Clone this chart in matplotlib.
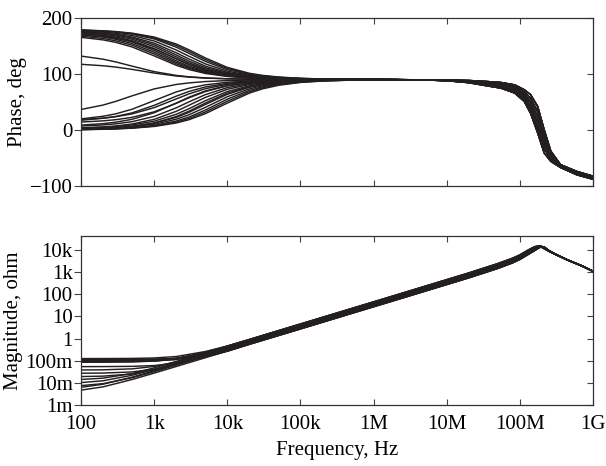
import matplotlib.pyplot as plt

plt.rcParams['font.family'] = ['Liberation Serif', 'DejaVu Serif']
plt.rcParams['font.size'] = 15

# ---- phase data (deg) ----
# low band: 100 Hz .. 1 MHz
f_phase_lo = [1e2, 2e2, 3e2, 5e2, 1e3, 2e3, 3e3, 5e3, 1e4, 2e4, 3e4, 5e4, 1e5, 2e5, 5e5, 1e6]
phase_upper = [
    [178.6, 177.1, 175.7, 172.9, 166.0, 153.5, 143.1, 128.7, 111.8, 101.3, 97.6, 94.6, 92.3, 91.1, 90.5, 90.2],
    [178.4, 176.8, 175.2, 172.1, 164.5, 151.0, 140.2, 125.8, 109.8, 100.2, 96.8, 94.1, 92.1, 91.0, 90.4, 90.2],
    [178.2, 176.4, 174.6, 171.1, 162.6, 148.0, 136.8, 122.6, 107.7, 99.1, 96.1, 93.7, 91.8, 90.9, 90.4, 90.2],
    [176.9, 174.8, 172.7, 168.7, 158.9, 142.9, 131.6, 118.1, 105.0, 97.6, 95.1, 93.1, 91.5, 90.8, 90.3, 90.2],
    [175.5, 173.2, 170.7, 166.0, 155.0, 137.9, 126.7, 114.1, 102.7, 96.4, 94.3, 92.6, 91.3, 90.6, 90.3, 90.1],
    [175.2, 172.4, 169.7, 164.3, 152.0, 134.0, 122.9, 111.3, 101.1, 95.6, 93.7, 92.2, 91.1, 90.6, 90.2, 90.1],
    [174.0, 170.9, 167.9, 162.0, 148.9, 130.6, 119.9, 109.1, 99.8, 95.0, 93.3, 92.0, 91.0, 90.5, 90.2, 90.1],
    [172.6, 169.2, 165.9, 159.4, 145.4, 127.0, 116.8, 106.9, 98.7, 94.4, 92.9, 91.7, 90.9, 90.4, 90.2, 90.1],
    [169.9, 166.8, 163.8, 157.9, 144.9, 127.3, 117.2, 107.3, 98.9, 94.5, 93.0, 91.8, 90.9, 90.4, 90.2, 90.1],
    [172.1, 168.2, 164.4, 157.2, 142.1, 123.4, 113.9, 105.0, 97.6, 93.8, 92.6, 91.5, 90.8, 90.4, 90.2, 90.1],
    [169.9, 165.9, 161.9, 154.3, 138.9, 120.8, 111.9, 103.6, 96.9, 93.5, 92.3, 91.4, 90.7, 90.3, 90.1, 90.1],
    [167.7, 163.4, 159.2, 151.4, 135.8, 118.2, 109.8, 102.3, 96.2, 93.1, 92.1, 91.2, 90.6, 90.3, 90.1, 90.1],
    [165.4, 160.9, 156.4, 148.2, 132.4, 115.6, 107.9, 101.0, 95.6, 92.8, 91.9, 91.1, 90.6, 90.3, 90.1, 90.1],
]
phase_mid = [
    [132.0, 126.4, 121.5, 114.0, 104.2, 97.5, 95.0, 93.0, 91.5, 90.8, 90.5, 90.3, 90.1, 90.1, 90.0, 90.0],
    [117.3, 114.7, 112.3, 108.2, 101.7, 96.4, 94.4, 92.7, 91.3, 90.7, 90.4, 90.3, 90.1, 90.1, 90.0, 90.0],
]
phase_lower = [
    [36.6, 44.5, 51.2, 61.0, 73.3, 81.3, 84.1, 86.5, 88.2, 89.1, 89.4, 89.6, 89.8, 89.9, 90.0, 90.0],
    [19.8, 24.5, 28.9, 37.1, 52.5, 67.9, 74.6, 80.6, 85.2, 87.6, 88.4, 89.0, 89.5, 89.8, 89.9, 90.0],
    [18.6, 21.2, 23.8, 28.7, 39.9, 55.4, 64.5, 73.7, 81.6, 85.8, 87.2, 88.3, 89.2, 89.6, 89.8, 89.9],
    [17.4, 20.9, 24.2, 30.6, 44.0, 60.4, 68.9, 76.8, 83.3, 86.6, 87.7, 88.6, 89.3, 89.7, 89.9, 89.9],
    [14.2, 16.3, 18.4, 22.6, 32.4, 47.6, 57.5, 68.6, 78.8, 84.3, 86.2, 87.7, 88.9, 89.4, 89.8, 89.9],
    [8.7, 11.3, 14.0, 19.1, 30.8, 48.0, 58.6, 69.7, 79.4, 84.7, 86.4, 87.9, 88.9, 89.5, 89.8, 89.9],
    [7.0, 9.0, 11.0, 14.9, 24.2, 39.5, 50.3, 63.1, 75.7, 82.7, 85.1, 87.1, 88.5, 89.3, 89.7, 89.9],
    [3.8, 5.5, 7.2, 10.7, 19.0, 33.3, 44.2, 58.1, 72.7, 81.1, 84.0, 86.4, 88.2, 89.1, 89.6, 89.8],
    [3.4, 4.8, 6.2, 9.0, 15.7, 28.0, 38.1, 52.2, 68.7, 78.9, 82.6, 85.5, 87.8, 88.9, 89.6, 89.8],
    [2.1, 3.3, 4.4, 6.6, 12.2, 22.5, 31.6, 45.5, 63.7, 76.1, 80.6, 84.3, 87.2, 88.6, 89.4, 89.7],
    [1.3, 2.5, 3.8, 6.3, 12.5, 24.0, 33.7, 48.0, 65.8, 77.3, 81.5, 84.9, 87.4, 88.7, 89.5, 89.7],
    [1.9, 2.9, 3.8, 5.7, 10.3, 19.2, 27.3, 40.3, 59.4, 73.4, 78.8, 83.2, 86.6, 88.3, 89.3, 89.7],
    [0.8, 1.6, 2.5, 4.1, 8.1, 16.0, 23.2, 35.5, 55.0, 70.7, 76.9, 82.0, 86.0, 88.0, 89.2, 89.6],
    [0.7, 1.4, 2.2, 3.6, 7.1, 14.0, 20.6, 32.0, 51.3, 68.2, 75.1, 80.9, 85.4, 87.7, 89.1, 89.5],
    [0.6, 1.3, 1.9, 3.2, 6.3, 12.5, 18.4, 29.1, 48.0, 65.8, 73.3, 79.8, 84.9, 87.4, 89.0, 89.5],
]
# high band: 2 MHz .. 1 GHz, lines across the resonance band
f_phase_hi = [2e6, 5e6, 1e7, 2e7, 3.5e7, 5.5e7, 8.5e7, 1.15e8, 1.4e8, 1.75e8,
              2.15e8, 2.65e8, 3.6e8, 6e8, 1e9]
phase_band = [
    [89.9, 89.6, 89.2, 88.4, 86.6, 84.8, 80.5, 71.8, 63.0, 42.0, 0.0, -38.0, -62.0, -74.0, -82.5],
    [89.9, 89.5, 89.0, 87.6, 85.1, 82.8, 77.6, 67.6, 56.4, 32.6, -8.2, -41.6, -63.0, -75.2, -83.6],
    [89.9, 89.5, 88.7, 86.8, 83.6, 80.8, 74.7, 63.5, 49.8, 23.2, -16.4, -45.2, -64.0, -76.4, -84.7],
    [89.8, 89.4, 88.5, 86.1, 82.0, 78.8, 71.8, 59.3, 43.2, 13.8, -24.6, -48.8, -65.0, -77.6, -85.8],
    [89.8, 89.4, 88.2, 85.3, 80.5, 76.8, 68.9, 55.2, 36.6, 4.4, -32.8, -52.4, -66.0, -78.8, -86.9],
    [89.8, 89.3, 88.0, 84.5, 79.0, 74.8, 66.0, 51.0, 30.0, -5.0, -41.0, -56.0, -67.0, -80.0, -88.0],
]

# ---- magnitude data (ohm) ----
f_mag_lo = [1e2, 2e2, 5e2, 1e3, 2e3, 5e3]
mag_lo_mohm = [
    [125.1, 125.3, 127.1, 133.0, 154.6, 259.6],
    [115.0, 115.1, 115.8, 118.2, 127.3, 178.5],
    [108.1, 108.2, 109.4, 113.5, 128.7, 205.6],
    [100.1, 100.3, 102.0, 107.7, 127.9, 223.2],
    [95.1, 95.2, 96.3, 100.0, 113.7, 182.7],
    [90.1, 90.3, 91.7, 96.6, 114.0, 196.8],
    [85.1, 85.5, 88.0, 96.4, 124.5, 242.9],
    [54.1, 54.3, 55.7, 60.5, 76.8, 146.8],
    [38.2, 38.8, 42.9, 55.1, 88.4, 203.1],
    [27.2, 27.7, 31.2, 41.3, 68.0, 158.3],
    [19.3, 20.1, 25.2, 38.1, 68.7, 176.0],
    [14.2, 16.3, 26.5, 47.5, 92.0, 227.9],
    [10.3, 12.4, 22.1, 41.0, 80.4, 199.7],
    [7.5, 9.2, 17.0, 31.9, 62.8, 156.1],
    [6.3, 8.7, 18.2, 35.4, 70.2, 175.1],
    [4.7, 6.6, 14.2, 27.6, 54.7, 136.6],
]
mag_lo_band = [4, 0, 2, 3, 1, 2, 4, 0, 3, 1, 2, 4, 3, 1, 2, 0]
f_mag_hi = [1e4, 2e4, 5e4, 1e5, 2e5, 5e5, 1e6, 2e6, 5e6, 1e7, 2e7, 5e7, 8e7, 1e8,
            1.3e8, 1.6e8, 1.8e8, 1.95e8, 2.15e8, 2.5e8, 3e8, 4.5e8, 7e8, 1e9]
mag_band = [
    [0.27, 0.55, 1.37, 2.73, 5.46, 13.7, 27.3, 54.6, 137, 275, 552, 1470, 2650, 3750,
     6300, 9500, 12200, 13800, 13900, 9500, 6800, 3600, 1970, 1110],
    [0.31, 0.62, 1.56, 3.12, 6.23, 15.6, 31.2, 62.3, 157, 313, 630, 1670, 3000, 4250,
     7300, 10800, 13400, 14600, 13200, 9300, 6700, 3550, 1950, 1100],
    [0.35, 0.70, 1.75, 3.5, 7.0, 17.5, 35, 70, 176, 352, 708, 1880, 3370, 4750,
     8200, 12000, 14500, 15000, 12500, 9000, 6600, 3500, 1930, 1090],
    [0.40, 0.80, 2.0, 3.99, 7.98, 20.0, 39.9, 79.8, 201, 401, 807, 2140, 3800, 5300,
     9000, 13000, 15300, 14400, 12000, 8850, 6550, 3480, 1920, 1085],
    [0.46, 0.91, 2.28, 4.55, 9.1, 22.8, 45.5, 91, 229, 458, 920, 2440, 4300, 6000,
     10000, 14200, 15000, 13600, 11400, 8650, 6500, 3450, 1900, 1080],
]

x_ticks = [1e2, 1e3, 1e4, 1e5, 1e6, 1e7, 1e8, 1e9]
x_labels = ['100', '1k', '10k', '100k', '1M', '10M', '100M', '1G']
phase_ticks = [-100, 0, 100, 200]
mag_ticks = [1e-3, 1e-2, 1e-1, 1, 10, 100, 1e3, 1e4]
mag_labels = ['1m', '10m', '100m', '1', '10', '100', '1k', '10k']

ink = '#231f20'
fig = plt.figure(figsize=(6.06, 4.66), dpi=100)
ax1 = fig.add_axes([0.1337, 0.6009, 0.8449, 0.3605])
ax2 = fig.add_axes([0.1337, 0.1309, 0.8449, 0.3627])

curves = phase_upper + phase_mid + phase_lower
for i, lo in enumerate(curves):
    ax1.plot(f_phase_lo + f_phase_hi, lo + phase_band[i % len(phase_band)],
             color=ink, lw=1.05)

for i, lo in enumerate(mag_lo_mohm):
    vals = [v / 1000 for v in lo] + mag_band[mag_lo_band[i]]
    ax2.plot(f_mag_lo + f_mag_hi, vals, color=ink, lw=1.05)

for ax in (ax1, ax2):
    ax.set_xscale('log')
    ax.set_xlim(1e2, 1e9)
    ax.set_xticks(x_ticks)
    ax.minorticks_off()
    ax.tick_params(axis='x', which='both', direction='in', top=True, bottom=True,
                   length=4, width=0.8, color='#444444')
    ax.tick_params(axis='y', direction='out', length=5, width=0.8, color='#444444', pad=1)
    for s in ax.spines.values():
        s.set_linewidth(0.9)
        s.set_color('#333333')

ax1.set_ylim(-100, 200)
ax1.set_yticks(phase_ticks)
ax1.tick_params(axis='x', labelbottom=False)
ax1.set_ylabel('Phase, deg', labelpad=2)

ax2.set_yscale('log')
ax2.set_ylim(1e-3, 4.3e4)
ax2.set_yticks(mag_ticks)
ax2.set_yticklabels(mag_labels)
ax2.minorticks_off()
ax2.set_xticklabels(x_labels)
ax2.tick_params(axis='x', pad=7)
ax2.set_ylabel('Magnitude, ohm', labelpad=2)
ax2.set_xlabel('Frequency, Hz', labelpad=5)

# inward ticks on the right spine
for ax, ticks in ((ax1, phase_ticks), (ax2, mag_ticks)):
    sec = ax.secondary_yaxis('right')
    sec.set_yticks(ticks)
    sec.minorticks_off()
    sec.tick_params(direction='in', length=4, width=0.8, color='#444444', labelright=False)
    sec.spines['right'].set_visible(False)

fig.savefig('out.png', dpi=100)
